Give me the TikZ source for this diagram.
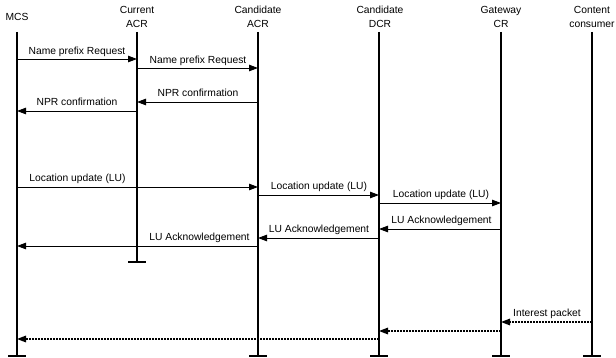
\documentclass[tikz,border=0pt]{standalone}
\usepackage{fontspec}
\setmainfont{Liberation Sans}
\usetikzlibrary{arrows.meta}
\begin{document}
\begin{tikzpicture}[x=1pt,y=-1pt,
  lifeline/.style={line width=1.8pt},
  endtick/.style={line width=2pt},
  msg/.style={line width=0.9pt,-{Triangle[length=9pt,width=6.5pt]}},
  reply/.style={msg, line width=1.5pt, dash pattern=on 2pt off 1pt},
  head/.style={font=\fontsize{10.3}{14}\selectfont, align=center, inner sep=0pt},
  lbl/.style={font=\fontsize{10.3}{12}\selectfont, inner sep=0pt, anchor=base}]
\useasboundingbox (0,0) rectangle (616,358);
% headers
\node[head] (hMCS) at (17,17) {MCS};
\node[head] (hCur) at (137,17) {Current\\ACR};
\node[head] (hCan) at (258,17) {Candidate\\ACR};
\node[head] (hDCR) at (380,17) {Candidate\\DCR};
\node[head] (hGw)  at (501,17) {Gateway\\CR};
\node[head] (hCon) at (592,17) {Content\\consumer};
% lifeline ends
\coordinate (mT) at (17,32);   \coordinate (mB) at (17,355.5);
\coordinate (cT) at (137,32);  \coordinate (cB) at (137,262.5);
\coordinate (aT) at (258,32);  \coordinate (aB) at (258,355.5);
\coordinate (dT) at (379,32);  \coordinate (dB) at (379,355.5);
\coordinate (gT) at (501,32);  \coordinate (gB) at (501,355.5);
\coordinate (kT) at (592,32);  \coordinate (kB) at (592,355.5);
\foreach \t/\b in {mT/mB,cT/cB,aT/aB,dT/dB,gT/gB,kT/kB}{
  \draw[lifeline] (\t) -- (\b);
  \draw[endtick] ([xshift=-9pt]\b) -- ([xshift=9pt]\b);
}
% messages
\draw[msg] (mT |- 0,59) -- (cT |- 0,59);
\node[lbl] (l1) at (77,54.5) {Name prefix Request};
\draw[msg] (cT |- 0,68) -- (aT |- 0,68);
\node[lbl] (l2) at (198,63.3) {Name prefix Request};
\draw[msg] (aT |- 0,102) -- (cT |- 0,102);
\node[lbl] (l3) at (198,96.7) {NPR confirmation};
\draw[msg] (cT |- 0,111) -- (mT |- 0,111);
\node[lbl] (l4) at (77,105.5) {NPR confirmation};
\draw[msg] (mT |- 0,187) -- (aT |- 0,187);
\node[lbl] (l5) at (77.5,181.8) {Location update (LU)};
\draw[msg] (aT |- 0,195) -- (dT |- 0,195);
\node[lbl] (l6) at (319,189.8) {Location update (LU)};
\draw[msg] (dT |- 0,203) -- (gT |- 0,203);
\node[lbl] (l7) at (441,197.8) {Location update (LU)};
\draw[msg] (gT |- 0,229) -- (dT |- 0,229);
\node[lbl] (l8) at (441.5,223.8) {LU Acknowledgement};
\draw[msg] (dT |- 0,238) -- (aT |- 0,238);
\node[lbl] (l9) at (319,232.8) {LU Acknowledgement};
\draw[msg] (aT |- 0,246) -- (mT |- 0,246);
\node[lbl] (l10) at (199.5,240.8) {LU Acknowledgement};
\draw[reply] (kT |- 0,322) -- (gT |- 0,322);
\node[lbl] (l11) at (547,316.5) {Interest packet};
\draw[reply] (gT |- 0,331) -- (dT |- 0,331);
\draw[reply] (dT |- 0,339) -- (mT |- 0,339);
\end{tikzpicture}
\end{document}
